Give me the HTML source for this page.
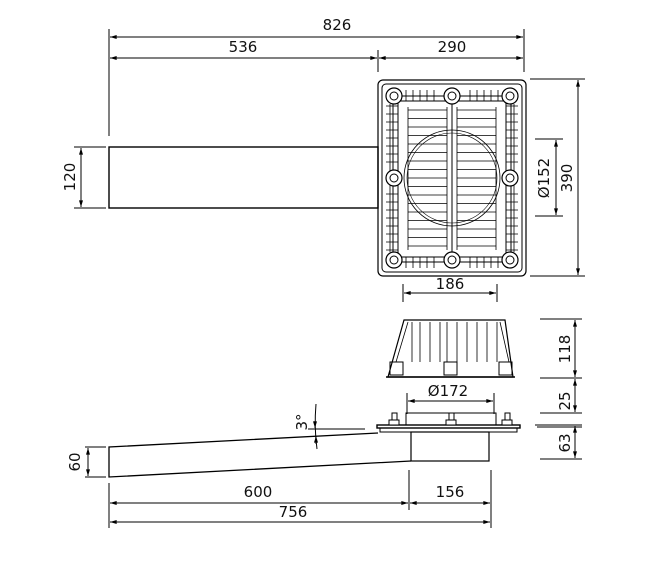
<!DOCTYPE html>
<html><head><meta charset="utf-8"><style>
body{margin:0;background:#fff;}
svg{display:block;}
text{font-family:"DejaVu Sans","Liberation Sans",sans-serif;font-size:15px;fill:#111;}
</style></head><body>
<svg width="660" height="562" viewBox="0 0 660 562" xmlns="http://www.w3.org/2000/svg">
<defs>
<marker id="a" viewBox="0 0 10 6" refX="10" refY="3" markerWidth="8" markerHeight="4" orient="auto-start-reverse"><path d="M0,0L10,3L0,6z" fill="#000"/></marker>
</defs>
<g stroke="#000" stroke-width="1" fill="none">
<line x1="109" y1="29" x2="109" y2="136"/>
<line x1="378" y1="50" x2="378" y2="72"/>
<line x1="524" y1="29" x2="524" y2="72"/>
<line x1="110" y1="37" x2="523" y2="37" marker-start="url(#a)" marker-end="url(#a)"/>
<line x1="110" y1="58" x2="377" y2="58" marker-start="url(#a)" marker-end="url(#a)"/>
<line x1="379" y1="58" x2="523" y2="58" marker-start="url(#a)" marker-end="url(#a)"/>
<rect x="109" y="147" width="269" height="61" stroke-width="1.4"/>
<line x1="74" y1="147" x2="106" y2="147"/><line x1="74" y1="208" x2="106" y2="208"/>
<line x1="81" y1="148" x2="81" y2="207" marker-start="url(#a)" marker-end="url(#a)"/>
<rect x="378" y="80" width="148" height="196" rx="5" stroke-width="1.2"/>
<rect x="382" y="84" width="140" height="188" rx="4"/>
<rect x="393" y="96" width="118" height="166"/>
<rect x="398" y="101" width="108" height="156"/>
<line x1="452" y1="101" x2="452" y2="257"/>
<circle cx="452" cy="178" r="48" stroke-width="0.8"/><circle cx="452" cy="178" r="45" stroke-width="0.6"/>
<g stroke-width="0.8">
<path d="M408,110H447M408,118.5H447M408,127H447M408,135.5H447M408,144H447M408,152.5H447M408,161H447M408,169.5H447M408,178H447M408,186.5H447M408,195H447M408,203.5H447M408,212H447M408,220.5H447M408,229H447M408,237.5H447M408,246H447"/>
<path d="M457,110H496M457,118.5H496M457,127H496M457,135.5H496M457,144H496M457,152.5H496M457,161H496M457,169.5H496M457,178H496M457,186.5H496M457,195H496M457,203.5H496M457,212H496M457,220.5H496M457,229H496M457,237.5H496M457,246H496"/>
<path d="M408,107V250M496,107V250M457,107V250M447,107V250"/>
<path d="M386,106H398M386,114H398M386,122H398M386,130H398M386,138H398M386,146H398M386,154H398M386,162H398M386,194H398M386,202H398M386,210H398M386,218H398M386,226H398M386,234H398M386,242H398M386,250H398"/>
<path d="M506,106H518M506,114H518M506,122H518M506,130H518M506,138H518M506,146H518M506,154H518M506,162H518M506,194H518M506,202H518M506,210H518M506,218H518M506,226H518M506,234H518M506,242H518M506,250H518"/>
<path d="M390,104V252M514,104V252"/>
<path d="M406,90V101M413,90V101M420,90V101M427,90V101M434,90V101M470,90V101M477,90V101M484,90V101M491,90V101M498,90V101"/>
<path d="M406,257V268M413,257V268M420,257V268M427,257V268M434,257V268M470,257V268M477,257V268M484,257V268M491,257V268M498,257V268"/>
</g>
<g fill="#fff" stroke-width="1.2">
<circle cx="394" cy="96" r="8"/><circle cx="452" cy="96" r="8"/><circle cx="510" cy="96" r="8"/>
<circle cx="394" cy="178" r="8"/><circle cx="510" cy="178" r="8"/>
<circle cx="394" cy="260" r="8"/><circle cx="452" cy="260" r="8"/><circle cx="510" cy="260" r="8"/>
</g>
<g>
<circle cx="394" cy="96" r="4"/><circle cx="452" cy="96" r="4"/><circle cx="510" cy="96" r="4"/>
<circle cx="394" cy="178" r="4"/><circle cx="510" cy="178" r="4"/>
<circle cx="394" cy="260" r="4"/><circle cx="452" cy="260" r="4"/><circle cx="510" cy="260" r="4"/>
</g>
<line x1="530" y1="79" x2="585" y2="79"/><line x1="530" y1="276" x2="585" y2="276"/>
<line x1="578" y1="80" x2="578" y2="275" marker-start="url(#a)" marker-end="url(#a)"/>
<line x1="535" y1="139" x2="563" y2="139"/><line x1="535" y1="216" x2="563" y2="216"/>
<line x1="556" y1="140" x2="556" y2="215" marker-start="url(#a)" marker-end="url(#a)"/>
<line x1="403" y1="284" x2="403" y2="302"/><line x1="497" y1="284" x2="497" y2="302"/>
<line x1="404" y1="293" x2="496" y2="293" marker-start="url(#a)" marker-end="url(#a)"/>
<path d="M404,320H505L513,377H388Z" stroke-width="1.2"/>
<line x1="386" y1="377" x2="515" y2="377" stroke-width="1.5"/>
<path d="M412,322V362M420,322V362M430,322V362M440,322V362M447,322V362M457,322V362M467,322V362M477,322V362M487,322V362M497,322V362" stroke-width="0.8"/>
<path d="M408,322L396,362M500,322L509,362" stroke-width="0.8"/>
<rect x="390" y="362" width="13" height="13"/><rect x="444" y="362" width="13" height="13"/><rect x="499" y="362" width="13" height="13"/>
<line x1="540" y1="319" x2="582" y2="319"/><line x1="540" y1="378" x2="582" y2="378"/>
<line x1="575" y1="320" x2="575" y2="377" marker-start="url(#a)" marker-end="url(#a)"/>
<line x1="407" y1="393" x2="407" y2="414"/><line x1="494" y1="393" x2="494" y2="414"/>
<line x1="408" y1="401" x2="493" y2="401" marker-start="url(#a)" marker-end="url(#a)"/>
<line x1="540" y1="413" x2="582" y2="413"/>
<line x1="535" y1="425" x2="582" y2="425"/><line x1="537" y1="427" x2="582" y2="427"/>
<line x1="540" y1="459" x2="582" y2="459"/>
<line x1="575" y1="379" x2="575" y2="412" marker-start="url(#a)" marker-end="url(#a)"/>
<line x1="575" y1="426" x2="575" y2="458" marker-start="url(#a)" marker-end="url(#a)"/>
<rect x="406" y="413" width="90" height="12"/>
<rect x="377" y="425" width="143" height="3" stroke-width="1.4"/>
<rect x="380" y="428" width="137" height="4"/>
<rect x="411" y="432" width="78" height="29" stroke-width="1.2"/>
<g fill="#fff"><rect x="389" y="420" width="10" height="5"/><rect x="392" y="413" width="5" height="7"/>
<rect x="446" y="420" width="10" height="5"/><rect x="449" y="413" width="5" height="7"/>
<rect x="502" y="420" width="10" height="5"/><rect x="505" y="413" width="5" height="7"/></g>
<path d="M378,433L109,447V477L411,461" stroke-width="1.3"/>
<line x1="85" y1="447" x2="106" y2="447"/><line x1="85" y1="477" x2="106" y2="477"/>
<line x1="88" y1="448" x2="88" y2="476" marker-start="url(#a)" marker-end="url(#a)"/>
<line x1="308" y1="429" x2="365" y2="429"/>
<path d="M316,404Q314,427 317,449"/>
<line x1="315" y1="421" x2="315" y2="428" marker-end="url(#a)"/>
<line x1="316" y1="444" x2="316" y2="436" marker-end="url(#a)"/>
<line x1="109" y1="483" x2="109" y2="528"/>
<line x1="409" y1="470" x2="409" y2="510"/>
<line x1="491" y1="470" x2="491" y2="528"/>
<line x1="110" y1="503" x2="408" y2="503" marker-start="url(#a)" marker-end="url(#a)"/>
<line x1="410" y1="503" x2="490" y2="503" marker-start="url(#a)" marker-end="url(#a)"/>
<line x1="110" y1="522" x2="490" y2="522" marker-start="url(#a)" marker-end="url(#a)"/>
</g>
<text x="337" y="30" text-anchor="middle">826</text>
<text x="243" y="52" text-anchor="middle">536</text>
<text x="452" y="52" text-anchor="middle">290</text>
<text transform="translate(75,177) rotate(-90)" text-anchor="middle">120</text>
<text transform="translate(549,178) rotate(-90)" text-anchor="middle">Ø152</text>
<text transform="translate(572,178) rotate(-90)" text-anchor="middle">390</text>
<text x="450" y="289" text-anchor="middle">186</text>
<text transform="translate(570,349) rotate(-90)" text-anchor="middle">118</text>
<text x="448" y="396" text-anchor="middle">Ø172</text>
<text transform="translate(570,401) rotate(-90)" text-anchor="middle">25</text>
<text transform="translate(570,443) rotate(-90)" text-anchor="middle">63</text>
<text transform="translate(307,422) rotate(-90)" text-anchor="middle">3°</text>
<text transform="translate(80,462) rotate(-90)" text-anchor="middle">60</text>
<text x="258" y="497" text-anchor="middle">600</text>
<text x="450" y="497" text-anchor="middle">156</text>
<text x="293" y="517" text-anchor="middle">756</text>
</svg>
</body></html>
